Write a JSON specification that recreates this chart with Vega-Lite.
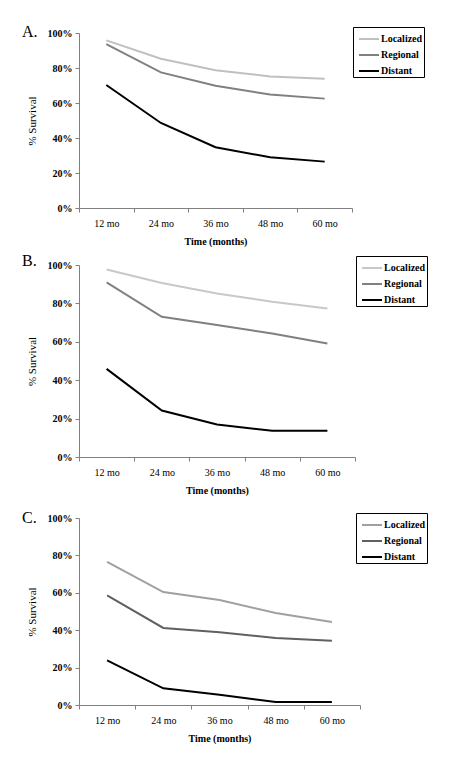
{
  "$schema": "https://vega.github.io/schema/vega-lite/v6.json",
  "background": "white",
  "padding": {"left": 22, "top": 23, "right": 5, "bottom": 5},
  "spacing": 14,
  "config": {
    "font": "Liberation Serif",
    "view": {"stroke": null},
    "axis": {
      "domainColor": "#808080",
      "tickColor": "#808080",
      "labelColor": "black",
      "titleColor": "black",
      "labelFont": "Liberation Serif",
      "titleFont": "Liberation Serif",
      "labelFontSize": 10,
      "grid": false
    },
    "axisX": {"tickSize": 4, "labelPadding": 6, "labelAngle": 0, "titleFontSize": 10, "titleFontWeight": "bold", "titlePadding": 8, "tickBand": "extent", "labelFontWeight": "normal"},
    "axisY": {"tickSize": 4, "labelPadding": 3, "titleFontSize": 11, "titleFontWeight": "normal", "titlePadding": 10, "labelFontWeight": "bold"},
    "legend": {
      "orient": "none",
      "legendX": 274,
      "legendY": -6,
      "strokeColor": "black",
      "padding": 1,
      "symbolType": "stroke",
      "symbolSize": 400,
      "symbolStrokeWidth": 2,
      "symbolOffset": 4,
      "rowPadding": -4.5,
      "labelOffset": 1,
      "labelFont": "Liberation Serif",
      "labelFontSize": 10,
      "labelFontWeight": "bold",
      "labelColor": "black",
      "title": null
    },
    "title": {"font": "Liberation Serif", "fontSize": 16, "fontWeight": "normal", "color": "black", "anchor": "start", "frame": "group", "baseline": "alphabetic"}
  },
  "datasets": {
    "surv": [
      {"panel": "A", "stage": "Localized", "time": "12 mo", "value": 95.8},
      {"panel": "A", "stage": "Localized", "time": "24 mo", "value": 85.3},
      {"panel": "A", "stage": "Localized", "time": "36 mo", "value": 78.7},
      {"panel": "A", "stage": "Localized", "time": "48 mo", "value": 75.2},
      {"panel": "A", "stage": "Localized", "time": "60 mo", "value": 73.9},
      {"panel": "A", "stage": "Regional", "time": "12 mo", "value": 93.7},
      {"panel": "A", "stage": "Regional", "time": "24 mo", "value": 77.5},
      {"panel": "A", "stage": "Regional", "time": "36 mo", "value": 69.9},
      {"panel": "A", "stage": "Regional", "time": "48 mo", "value": 64.8},
      {"panel": "A", "stage": "Regional", "time": "60 mo", "value": 62.5},
      {"panel": "A", "stage": "Distant", "time": "12 mo", "value": 70.3},
      {"panel": "A", "stage": "Distant", "time": "24 mo", "value": 48.6},
      {"panel": "A", "stage": "Distant", "time": "36 mo", "value": 34.7},
      {"panel": "A", "stage": "Distant", "time": "48 mo", "value": 29.0},
      {"panel": "A", "stage": "Distant", "time": "60 mo", "value": 26.5},
      {"panel": "B", "stage": "Localized", "time": "12 mo", "value": 97.7},
      {"panel": "B", "stage": "Localized", "time": "24 mo", "value": 90.6},
      {"panel": "B", "stage": "Localized", "time": "36 mo", "value": 85.2},
      {"panel": "B", "stage": "Localized", "time": "48 mo", "value": 80.9},
      {"panel": "B", "stage": "Localized", "time": "60 mo", "value": 77.4},
      {"panel": "B", "stage": "Regional", "time": "12 mo", "value": 91.0},
      {"panel": "B", "stage": "Regional", "time": "24 mo", "value": 73.0},
      {"panel": "B", "stage": "Regional", "time": "36 mo", "value": 68.7},
      {"panel": "B", "stage": "Regional", "time": "48 mo", "value": 64.3},
      {"panel": "B", "stage": "Regional", "time": "60 mo", "value": 59.1},
      {"panel": "B", "stage": "Distant", "time": "12 mo", "value": 45.9},
      {"panel": "B", "stage": "Distant", "time": "24 mo", "value": 24.2},
      {"panel": "B", "stage": "Distant", "time": "36 mo", "value": 16.9},
      {"panel": "B", "stage": "Distant", "time": "48 mo", "value": 13.7},
      {"panel": "B", "stage": "Distant", "time": "60 mo", "value": 13.7},
      {"panel": "C", "stage": "Localized", "time": "12 mo", "value": 76.6},
      {"panel": "C", "stage": "Localized", "time": "24 mo", "value": 60.4},
      {"panel": "C", "stage": "Localized", "time": "36 mo", "value": 56.1},
      {"panel": "C", "stage": "Localized", "time": "48 mo", "value": 49.2},
      {"panel": "C", "stage": "Localized", "time": "60 mo", "value": 44.4},
      {"panel": "C", "stage": "Regional", "time": "12 mo", "value": 58.6},
      {"panel": "C", "stage": "Regional", "time": "24 mo", "value": 41.2},
      {"panel": "C", "stage": "Regional", "time": "36 mo", "value": 38.9},
      {"panel": "C", "stage": "Regional", "time": "48 mo", "value": 35.8},
      {"panel": "C", "stage": "Regional", "time": "60 mo", "value": 34.4},
      {"panel": "C", "stage": "Distant", "time": "12 mo", "value": 23.9},
      {"panel": "C", "stage": "Distant", "time": "24 mo", "value": 8.9},
      {"panel": "C", "stage": "Distant", "time": "36 mo", "value": 5.5},
      {"panel": "C", "stage": "Distant", "time": "48 mo", "value": 1.6},
      {"panel": "C", "stage": "Distant", "time": "60 mo", "value": 1.6}
    ]
  },
  "resolve": {"scale": {"color": "independent"}, "legend": {"color": "independent"}},
  "vconcat": [
    {
      "spacing": 6,
      "resolve": {"scale": {"color": "independent"}, "legend": {"color": "independent"}},
      "vconcat": [
        {
          "width": 273, "height": 175,
          "title": {"text": "A.", "dx": -57, "dy": 17},
          "data": {"name": "surv"},
          "transform": [{"filter": "datum.panel === 'A'"}],
          "mark": {"type": "line", "strokeWidth": 2},
          "encoding": {
            "x": {"field": "time", "type": "ordinal", "sort": ["12 mo", "24 mo", "36 mo", "48 mo", "60 mo"], "scale": {"type": "band", "paddingInner": 0, "paddingOuter": 0}, "title": "Time (months)"},
            "y": {"field": "value", "type": "quantitative", "scale": {"domain": [0, 100]}, "axis": {"values": [0, 20, 40, 60, 80, 100], "labelExpr": "datum.label + '%'"}, "title": "% Survival"},
            "color": {"field": "stage", "type": "nominal", "sort": ["Localized", "Regional", "Distant"], "scale": {"domain": ["Localized", "Regional", "Distant"], "range": ["#c0c0c0", "#808080", "#000000"]}}
          }
        },
        {
          "width": 276, "height": 192,
          "title": {"text": "B.", "dx": -57, "dy": 17},
          "data": {"name": "surv"},
          "transform": [{"filter": "datum.panel === 'B'"}],
          "mark": {"type": "line", "strokeWidth": 2},
          "encoding": {
            "x": {"field": "time", "type": "ordinal", "sort": ["12 mo", "24 mo", "36 mo", "48 mo", "60 mo"], "scale": {"type": "band", "paddingInner": 0, "paddingOuter": 0}, "title": "Time (months)"},
            "y": {"field": "value", "type": "quantitative", "scale": {"domain": [0, 100]}, "axis": {"values": [0, 20, 40, 60, 80, 100], "labelExpr": "datum.label + '%'"}, "title": "% Survival"},
            "color": {"field": "stage", "type": "nominal", "sort": ["Localized", "Regional", "Distant"], "scale": {"domain": ["Localized", "Regional", "Distant"], "range": ["#c8c8c8", "#808080", "#000000"]}, "legend": {"legendX": 277, "legendY": -9}}
          }
        }
      ]
    },
    {
      "width": 281, "height": 187,
      "title": {"text": "C.", "dx": -57, "dy": 17},
      "data": {"name": "surv"},
      "transform": [{"filter": "datum.panel === 'C'"}],
      "mark": {"type": "line", "strokeWidth": 2},
      "encoding": {
        "x": {"field": "time", "type": "ordinal", "sort": ["12 mo", "24 mo", "36 mo", "48 mo", "60 mo"], "scale": {"type": "band", "paddingInner": 0, "paddingOuter": 0}, "title": "Time (months)"},
        "y": {"field": "value", "type": "quantitative", "scale": {"domain": [0, 100]}, "axis": {"values": [0, 20, 40, 60, 80, 100], "labelExpr": "datum.label + '%'"}, "title": "% Survival"},
        "color": {"field": "stage", "type": "nominal", "sort": ["Localized", "Regional", "Distant"], "scale": {"domain": ["Localized", "Regional", "Distant"], "range": ["#a0a0a0", "#606060", "#000000"]}, "legend": {"legendX": 277, "legendY": -5}}
      }
    }
  ]
}
